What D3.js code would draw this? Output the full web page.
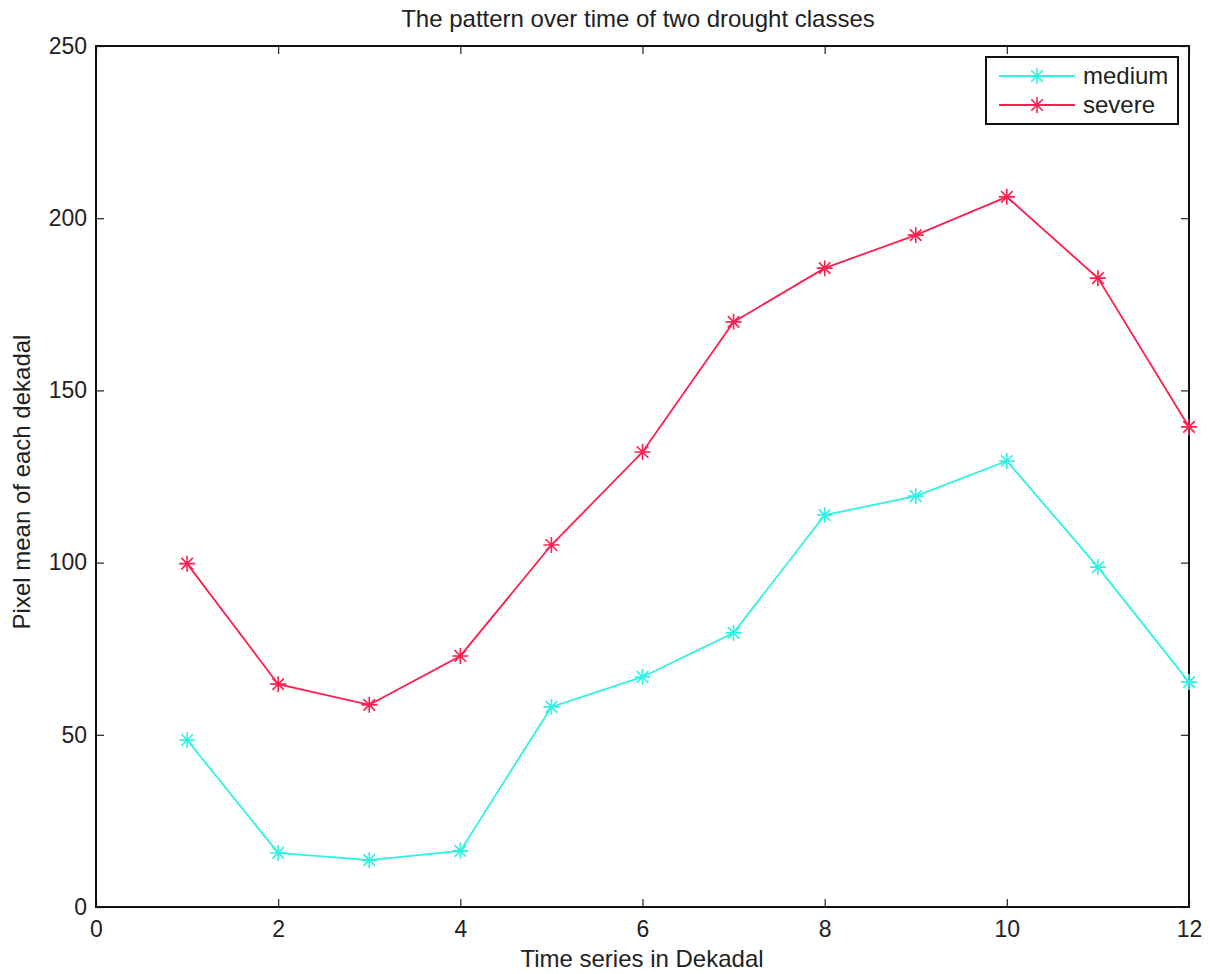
<!DOCTYPE html>
<html>
<head>
<meta charset="utf-8">
<script src="https://cdn.jsdelivr.net/npm/d3@7"></script>
<style>
  body { margin: 0; background: #fff; }
  svg { display: block; font-family: "Liberation Sans", Arial, sans-serif; }
</style>
</head>
<body>
<div id="chart"></div>
<script>
// --- Data ---
const dekads = [1, 2, 3, 4, 5, 6, 7, 8, 9, 10, 11, 12];
const medium = [48.5, 15.7, 13.6, 16.3, 58.1, 66.8, 79.6, 113.8, 119.3, 129.5, 98.7, 65.3];
const severe = [99.7, 64.7, 58.7, 72.9, 105.1, 132.1, 169.9, 185.5, 195.1, 206.2, 182.6, 139.4];
const seriesNames = ["medium", "severe"];
const seriesColors = ["#2ef2e2", "#ff1f4f"];
const xTicks = [0, 2, 4, 6, 8, 10, 12];
const yTicks = [0, 50, 100, 150, 200, 250];

const W = 1210, H = 974;
const margin = {top: 46, right: 21, bottom: 67, left: 96};
const width = W - margin.left - margin.right;
const height = H - margin.top - margin.bottom;

const svg = d3.select("#chart").append("svg")
    .attr("width", W).attr("height", H);

const g = svg.append("g").attr("transform", `translate(${margin.left},${margin.top})`);

const x = d3.scaleLinear().domain([0, 12]).range([0, width]);
const y = d3.scaleLinear().domain([0, 250]).range([height, 0]);

// axes: ticks point inward, mirrored on the top and right (box style)
const tickLen = 8;
const fontSize = 23;

g.append("g").attr("transform", `translate(0,${height})`)
    .call(d3.axisBottom(x).tickValues(xTicks).tickSize(-tickLen).tickPadding(14))
    .call(a => a.select(".domain").remove())
    .call(a => a.selectAll("text").attr("font-size", fontSize).attr("fill", "#222").attr("font-family", null));
g.append("g")
    .call(d3.axisTop(x).tickValues(xTicks).tickSize(-tickLen).tickFormat(""))
    .call(a => a.select(".domain").remove());
g.append("g")
    .call(d3.axisLeft(y).tickValues(yTicks).tickSize(-tickLen).tickPadding(9))
    .call(a => a.select(".domain").remove())
    .call(a => a.selectAll("text").attr("font-size", fontSize).attr("fill", "#222").attr("font-family", null));
g.append("g").attr("transform", `translate(${width},0)`)
    .call(d3.axisRight(y).tickValues(yTicks).tickSize(-tickLen).tickFormat(""))
    .call(a => a.select(".domain").remove());
g.selectAll(".tick line").attr("stroke", "#222").attr("stroke-width", 1.2);

g.append("rect").attr("width", width).attr("height", height)
    .attr("fill", "none").attr("stroke", "#111").attr("stroke-width", 2);

// star marker (plus + cross)
function star(sel, cx, cy, color, r) {
    const d = r * 0.72;
    sel.append("path")
        .attr("d", `M${cx - r},${cy}L${cx + r},${cy}M${cx},${cy - r}L${cx},${cy + r}` +
                   `M${cx - d},${cy - d}L${cx + d},${cy + d}M${cx - d},${cy + d}L${cx + d},${cy - d}`)
        .attr("stroke", color).attr("stroke-width", 1.6).attr("fill", "none");
}

const line = d3.line().x((d, i) => x(dekads[i])).y(d => y(d));
[medium, severe].forEach((vals, k) => {
    g.append("path").datum(vals)
        .attr("fill", "none").attr("stroke", seriesColors[k]).attr("stroke-width", 1.8)
        .attr("d", line);
    const mg = g.append("g");
    vals.forEach((v, i) => star(mg, x(dekads[i]), y(v), seriesColors[k], 8));
});

// title and labels
svg.append("text").attr("x", 638).attr("y", 27)
    .attr("text-anchor", "middle").attr("font-size", 24).attr("fill", "#222")
    .text("The pattern over time of two drought classes");
svg.append("text").attr("x", 642).attr("y", 967)
    .attr("text-anchor", "middle").attr("font-size", 24).attr("fill", "#222")
    .text("Time series in Dekadal");
svg.append("text")
    .attr("transform", `translate(30,482) rotate(-90)`)
    .attr("text-anchor", "middle").attr("font-size", 24).attr("fill", "#222")
    .text("Pixel mean of each dekadal");

// legend
const lg = svg.append("g").attr("transform", "translate(986,57)");
lg.append("rect").attr("width", 192).attr("height", 67)
    .attr("fill", "#fff").attr("stroke", "#111").attr("stroke-width", 2);
seriesNames.forEach((name, k) => {
    const ly = 19 + k * 29;
    lg.append("line").attr("x1", 13).attr("x2", 89).attr("y1", ly).attr("y2", ly)
        .attr("stroke", seriesColors[k]).attr("stroke-width", 1.8);
    star(lg, 51, ly, seriesColors[k], 8);
    lg.append("text").attr("x", 97).attr("y", ly + 8)
        .attr("font-size", 24).attr("fill", "#222").text(name);
});
</script>
</body>
</html>
